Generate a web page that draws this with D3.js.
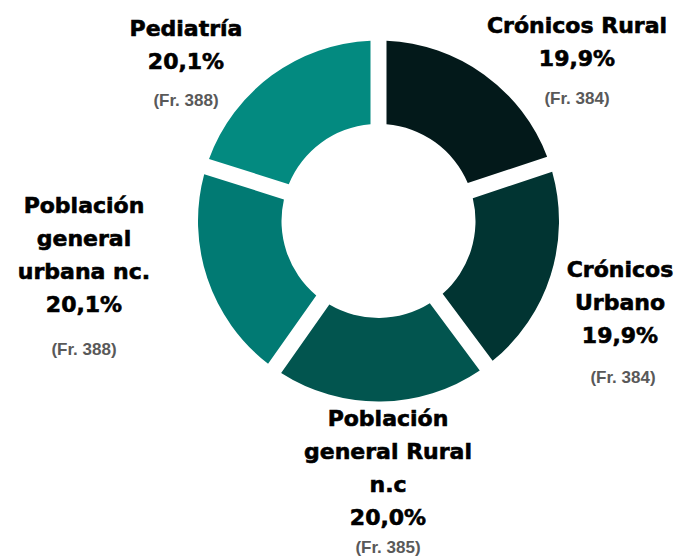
<!DOCTYPE html>
<html>
<head>
<meta charset="utf-8">
<script src="https://cdn.jsdelivr.net/npm/d3@7"></script>
<style>
  body { margin: 0; background: #fff; }
  .lbl { font-family: "DejaVu Sans", sans-serif; font-weight: bold; fill: #000; stroke: #000; stroke-width: 0.6; }
  .fr { font-family: "Liberation Sans", Arial, sans-serif; font-weight: bold; fill: #595959; }
</style>
</head>
<body>
<script>
// data, clockwise from 12 o'clock
const categories = [
  ['Crónicos Rural'],
  ['Crónicos', 'Urbano'],
  ['Población', 'general Rural', 'n.c'],
  ['Población', 'general', 'urbana nc.'],
  ['Pediatría']
];
const frequencies = [384, 384, 385, 388, 388];
const percentLabels = ['19,9%', '19,9%', '20,0%', '20,1%', '20,1%'];
const colors = ['#03191a', '#013432', '#02554f', '#017a73', '#038a80'];

// where each label block starts (baseline of its first line) and its gap before the (Fr.) line
const labelLayout = [
  { x: 577, y: 33, frGap: 38 },
  { x: 620, y: 277, frGap: 40 },
  { x: 388, y: 426, frGap: 28 },
  { x: 84, y: 213, frGap: 43 },
  { x: 186, y: 36, frGap: 37 }
];

const width = 682;
const height = 560;
const cx = 378.5;
const cy = 221;
const outerR = 180.5;
const innerR = 97;
const lineH = 33;

const svg = d3.select('body').append('svg')
  .attr('width', width)
  .attr('height', height);

const pie = d3.pie().sort(null).value(d => d);
const arc = d3.arc()
  .innerRadius(innerR)
  .outerRadius(outerR)
  .padRadius(outerR)
  .padAngle(16 / outerR);

const g = svg.append('g').attr('transform', `translate(${cx},${cy})`);
g.selectAll('path')
  .data(pie(frequencies))
  .join('path')
  .attr('d', arc)
  .attr('fill', (d, i) => colors[i]);

categories.forEach((lines, i) => {
  const pos = labelLayout[i];
  const t = svg.append('text')
    .attr('class', 'lbl')
    .attr('text-anchor', 'middle')
    .attr('font-size', 22);
  lines.concat([percentLabels[i]]).forEach((line, j) => {
    t.append('tspan')
      .attr('x', pos.x)
      .attr('y', pos.y + j * lineH)
      .text(line);
  });
  svg.append('text')
    .attr('class', 'fr')
    .attr('text-anchor', 'middle')
    .attr('font-size', 17)
    .attr('x', pos.x + (i === 1 ? 3 : 0))
    .attr('y', pos.y + lines.length * lineH + pos.frGap)
    .text(`(Fr. ${frequencies[i]})`);
});
</script>
</body>
</html>
